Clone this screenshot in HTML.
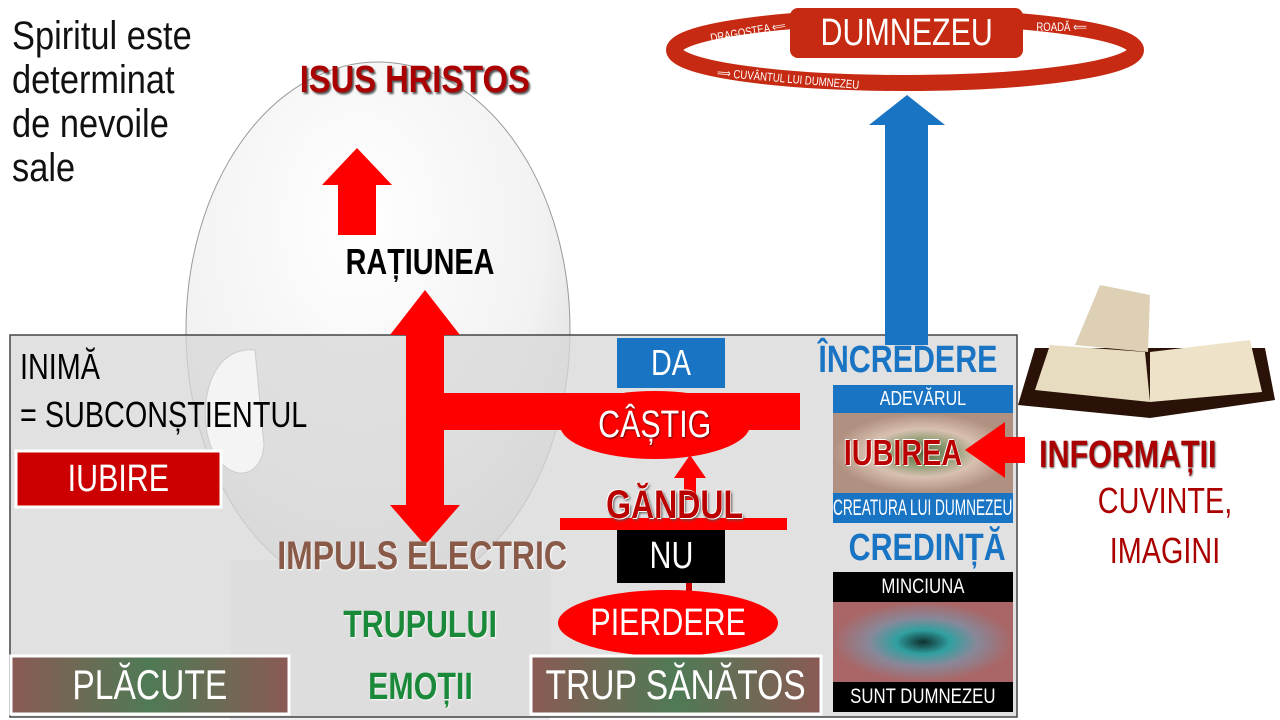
<!DOCTYPE html>
<html><head><meta charset="utf-8"><style>
body{margin:0;width:1280px;height:720px;overflow:hidden;background:#fff;position:relative;font-family:"Liberation Sans",sans-serif}
.a{position:absolute}
.t{position:absolute;white-space:nowrap;transform-origin:left top}
.c{position:absolute;display:flex;align-items:center;justify-content:center;color:#fff;white-space:nowrap}
.n{display:inline-block;transform:scaleX(.8)}
</style></head><body>
<svg class="a" style="left:0;top:0" width="1280" height="720">
<defs>
<radialGradient id="hd" cx="0.45" cy="0.3" r="0.8"><stop offset="0" stop-color="#fff"/><stop offset="0.6" stop-color="#f2f2f2"/><stop offset="1" stop-color="#d0d0d0"/></radialGradient>
<linearGradient id="br" x1="0" x2="1"><stop offset="0" stop-color="#8a5a55"/><stop offset="0.5" stop-color="#4f7a55"/><stop offset="1" stop-color="#8a5a55"/></linearGradient>
<radialGradient id="e1"><stop offset="0" stop-color="#5a6a40"/><stop offset=".3" stop-color="#8a9a70"/><stop offset=".6" stop-color="#d8c0b0"/><stop offset="1" stop-color="#b09080"/></radialGradient>
<radialGradient id="e2"><stop offset="0" stop-color="#103030"/><stop offset=".3" stop-color="#30a0a0"/><stop offset=".6" stop-color="#889"/><stop offset="1" stop-color="#a66"/></radialGradient>
</defs>
<ellipse cx="378" cy="330" rx="192" ry="268" fill="url(#hd)" stroke="#999"/>
<rect x="230" y="560" width="320" height="160" fill="#eee"/>
<rect x="10" y="335" width="1007" height="382" fill="rgba(215,215,215,0.75)" stroke="#444" stroke-width="1.5"/>
<path d="M255 350 C205 345 195 420 215 455 C235 485 262 475 264 445 Z" fill="#f4f4f4" stroke="#ccc"/>
<ellipse cx="905" cy="50" rx="231" ry="33" fill="none" stroke="#c62a12" stroke-width="16"/>
<polygon points="885,345 928,345 928,125 945,125 907,95 869,125 885,125" fill="#1a74c4"/>
<polygon points="338,235 376,235 376,185 392,185 357,148 322,185 338,185" fill="#f00"/>
<polygon points="390,335 406,335 406,505 390,505 425,545 460,505 444,505 444,430 800,430 800,393 444,393 444,335 460,335 425,290" fill="#f00"/>
<polygon points="684,500 696,500 696,478 706,478 690,455 674,478 684,478" fill="#f00"/>
<rect x="560" y="518" width="227" height="12" fill="#f00"/>
<rect x="686" y="583" width="6" height="12" fill="#c00"/>
<rect x="617" y="338" width="108" height="50" fill="#1a74c4"/>
<rect x="617" y="530" width="108" height="53" fill="#000"/>
<ellipse cx="655" cy="425" rx="95" ry="34" fill="#f00"/>
<ellipse cx="668" cy="623" rx="110" ry="33" fill="#f00"/>
<rect x="531" y="656" width="290" height="58" fill="url(#br)" stroke="#fff" stroke-width="3"/>
<rect x="11" y="656" width="278" height="58" fill="url(#br)" stroke="#fff" stroke-width="3"/>
<rect x="16" y="451" width="205" height="56" fill="#c00" stroke="#fff" stroke-width="3"/>
<rect x="833" y="385" width="180" height="28" fill="#1a74c4"/>
<rect x="833" y="413" width="180" height="80" fill="url(#e1)"/>
<rect x="833" y="493" width="180" height="30" fill="#1a74c4"/>
<rect x="833" y="572" width="180" height="30" fill="#000"/>
<rect x="833" y="602" width="180" height="80" fill="url(#e2)"/>
<rect x="833" y="682" width="180" height="30" fill="#000"/>
<polygon points="1025,437 1025,463 1005,463 1005,478 965,450 1005,422 1005,437" fill="#f00"/>
<path d="M1018 405 L1035 348 L1265 348 L1275 400 L1150 418 Z" fill="#2a1208"/>
<path d="M1035 390 L1050 345 L1145 352 L1150 402 Z" fill="#e8dcc0"/>
<path d="M1150 402 L1150 352 L1250 340 L1262 392 Z" fill="#eee2c8"/>
<path d="M1075 345 L1100 285 L1150 295 L1148 352 Z" fill="#ddd0b4"/>
</svg>
<div class="c" style="left:790px;top:8px;width:233px;height:50px;background:#c62a12;border-radius:8px;font-size:38px"><span class="n">DUMNEZEU</span></div>
<div class="t" style="left:700px;top:33px;font-size:12px;color:#fff;transform:rotate(-10deg)"><span class="n">DRAGOSTEA ⟸</span></div>
<div class="t" style="left:1030px;top:20px;font-size:12px;color:#fff"><span class="n">ROADĂ ⟸</span></div>
<div class="t" style="left:700px;top:64px;font-size:12px;color:#fff;transform:rotate(5deg)"><span class="n">⟹ CUVÂNTUL LUI DUMNEZEU</span></div>
<div class="t" style="left:12px;top:14px;font-size:40px;line-height:44px;color:#111;white-space:normal"><span class="n" style="transform:scaleX(.86);transform-origin:left">Spiritul este<br>determinat<br>de nevoile<br>sale</span></div>
<div class="c" style="left:270px;top:58px;width:290px;height:44px;color:#a00;font-weight:bold;font-size:38px;text-shadow:2px 2px 2px #555"><span class="n" style="transform:scaleX(.86)">ISUS HRISTOS</span></div>
<div class="c" style="left:300px;top:240px;width:240px;height:44px;color:#000;font-weight:bold;font-size:36px"><span class="n">RAȚIUNEA</span></div>
<div class="t" style="left:20px;top:343px;font-size:36px;line-height:48px;color:#000"><span class="n" style="transform:scaleX(.8);transform-origin:left">INIMĂ<br>= SUBCONȘTIENTUL</span></div>
<div class="c" style="left:16px;top:451px;width:205px;height:56px;font-size:38px"><span class="n">IUBIRE</span></div>
<div class="c" style="left:250px;top:533px;width:345px;height:46px;font-size:40px;font-weight:bold;color:#8a5a48;text-shadow:1px 1px 2px #fff"><span class="n">IMPULS ELECTRIC</span></div>
<div class="c" style="left:310px;top:603px;width:220px;height:44px;font-size:38px;font-weight:bold;color:#1a8a3a;text-shadow:1px 1px 2px #fff"><span class="n">TRUPULUI</span></div>
<div class="c" style="left:310px;top:665px;width:220px;height:44px;font-size:38px;font-weight:bold;color:#1a8a3a;text-shadow:1px 1px 2px #fff"><span class="n">EMOȚII</span></div>
<div class="c" style="left:11px;top:656px;width:278px;height:58px;font-size:42px"><span class="n">PLĂCUTE</span></div>
<div class="c" style="left:531px;top:656px;width:290px;height:58px;font-size:42px"><span class="n">TRUP SĂNĂTOS</span></div>
<div class="c" style="left:617px;top:338px;width:108px;height:50px;font-size:36px"><span class="n">DA</span></div>
<div class="c" style="left:560px;top:402px;width:190px;height:46px;font-size:38px;text-shadow:1px 1px 2px #600"><span class="n">CÂȘTIG</span></div>
<div class="c" style="left:560px;top:482px;width:230px;height:46px;font-size:40px;font-weight:bold;color:#b00;text-shadow:1px 1px 0 #fff,-1px -1px 0 #fff,2px 2px 3px #555"><span class="n">GĂNDUL</span></div>
<div class="c" style="left:617px;top:530px;width:108px;height:53px;font-size:38px"><span class="n">NU</span></div>
<div class="c" style="left:558px;top:600px;width:220px;height:46px;font-size:38px"><span class="n">PIERDERE</span></div>
<div class="c" style="left:800px;top:338px;width:215px;height:44px;font-size:38px;font-weight:bold;color:#1a74c4"><span class="n">ÎNCREDERE</span></div>
<div class="c" style="left:833px;top:385px;width:180px;height:28px;font-size:20px"><span class="n">ADEVĂRUL</span></div>
<div class="c" style="left:833px;top:430px;width:140px;height:46px;font-size:36px;font-weight:bold;color:#b00;text-shadow:1px 1px 0 #fff,-1px -1px 0 #fff"><span class="n">IUBIREA</span></div>
<div class="c" style="left:823px;top:493px;width:200px;height:30px;font-size:22px"><span class="n" style="transform:scaleX(.62)">CREATURA LUI DUMNEZEU</span></div>
<div class="c" style="left:820px;top:525px;width:215px;height:46px;font-size:38px;font-weight:bold;color:#1a74c4"><span class="n">CREDINȚĂ</span></div>
<div class="c" style="left:833px;top:572px;width:180px;height:30px;font-size:21px"><span class="n">MINCIUNA</span></div>
<div class="c" style="left:833px;top:682px;width:180px;height:30px;font-size:21px"><span class="n">SUNT DUMNEZEU</span></div>
<div class="c" style="left:1020px;top:432px;width:215px;height:46px;font-size:38px;font-weight:bold;color:#a00;text-shadow:1px 1px 2px #555"><span class="n">INFORMAȚII</span></div>
<div class="c" style="left:1070px;top:478px;width:190px;height:46px;font-size:36px;color:#a00"><span class="n">CUVINTE,</span></div>
<div class="c" style="left:1070px;top:528px;width:190px;height:46px;font-size:36px;color:#a00"><span class="n">IMAGINI</span></div>
</body></html>
